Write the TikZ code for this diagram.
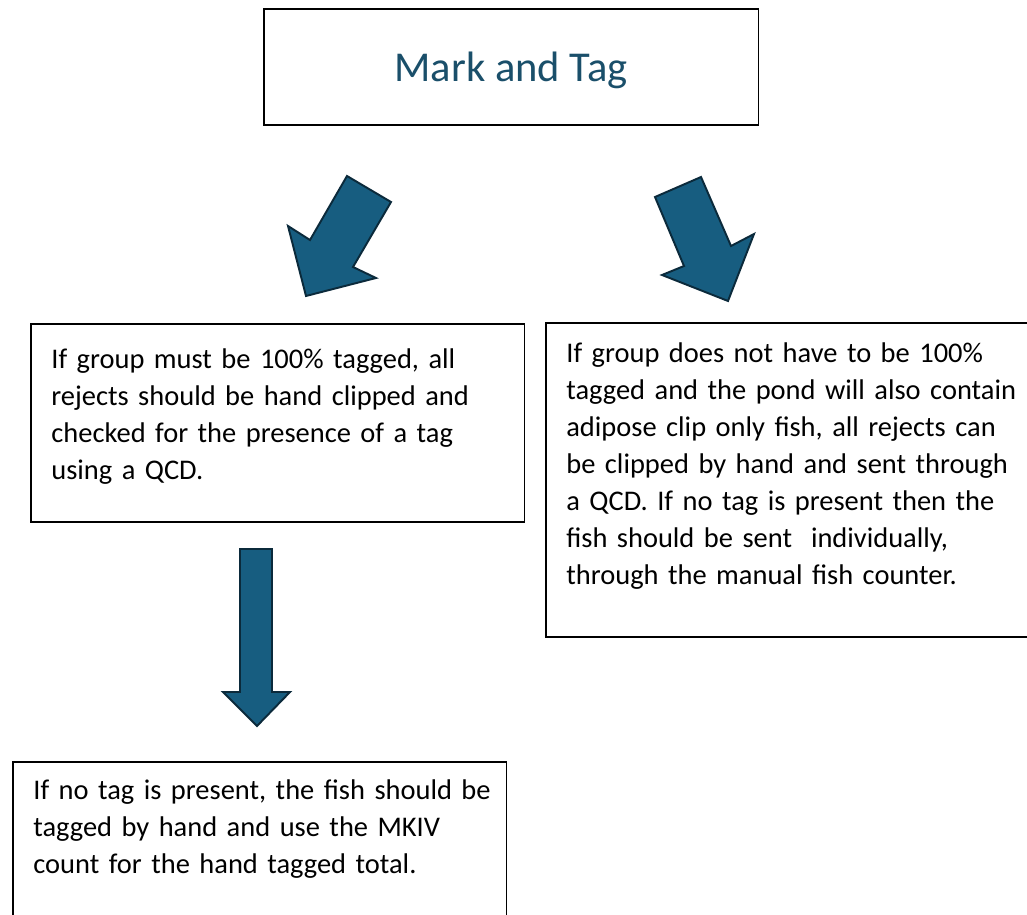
\documentclass[tikz,border=0pt]{standalone}
\usepackage{fontspec}
\setmainfont{Carlito}
\usetikzlibrary{positioning}

\definecolor{arrowfill}{HTML}{175D80}
\definecolor{arrowline}{HTML}{0B2A3B}
\definecolor{titleblue}{HTML}{1A4F6A}

\begin{document}
\begin{tikzpicture}[x=0.02cm,y=-0.02cm,
    box/.style={draw=black,line width=0.9pt,fill=white,inner sep=0pt,anchor=north west},
    boxtext/.style={inner sep=0pt,anchor=base west,align=left,text width=10.5cm,
        font=\fontsize{16.2}{21.1}\selectfont},
    blockarrow/.style={fill=arrowfill,draw=arrowline,line width=1.1pt,line join=miter}
    ]
    \clip (0,0) rectangle (1027,915);
    \fill[white] (0,0) rectangle (1027,915);

    % Title
    \node[box,minimum width=9.9cm,minimum height=2.32cm] (markbox) at (263,8) {};
    \node[inner sep=0pt,anchor=base,text=titleblue,font=\fontsize{24.2}{29}\selectfont]
        (marktext) at (511,82) {Mark and Tag};

    % Two options
    \node[box,minimum width=9.88cm,minimum height=3.96cm] (rejectbox) at (30,323) {};
    \node[boxtext] (rejecttext) at (51,368)
        {If group must be 100\% tagged, all\\
         rejects should be hand clipped and\\
         checked for the presence of a tag\\
         using a QCD.};

    \node[box,minimum width=9.9cm,minimum height=6.28cm] (pondbox) at (545,322) {};
    \node[boxtext] (pondtext) at (566,362)
        {If group does not have to be 100\%\\
         tagged and the pond will also contain\\
         adipose clip only fish, all rejects can\\
         be clipped by hand and sent through\\
         a QCD. If no tag is present then the\\
         fish should be sent\ \ individually,\\
         through the manual fish counter.};

    % Hand tagging
    \node[box,minimum width=9.88cm,minimum height=4cm] (handbox) at (12,761) {};
    \node[boxtext] (handtext) at (33,799)
        {If no tag is present, the fish should be\\
         tagged by hand and use the MKIV\\
         count for the hand tagged total.};

    % Block arrows
    \filldraw[blockarrow] (347,176) -- (391,202) -- (353,267) -- (376,278)
        -- (306,296) -- (288,226) -- (310,240) -- cycle;
    \filldraw[blockarrow] (655,197) -- (701,177) -- (731,246) -- (754,234)
        -- (728,301) -- (662,275) -- (684,266) -- cycle;
    \filldraw[blockarrow] (240,549) -- (272,549) -- (272,692) -- (290,692)
        -- (257,726) -- (223,692) -- (240,692) -- cycle;
\end{tikzpicture}
\end{document}
